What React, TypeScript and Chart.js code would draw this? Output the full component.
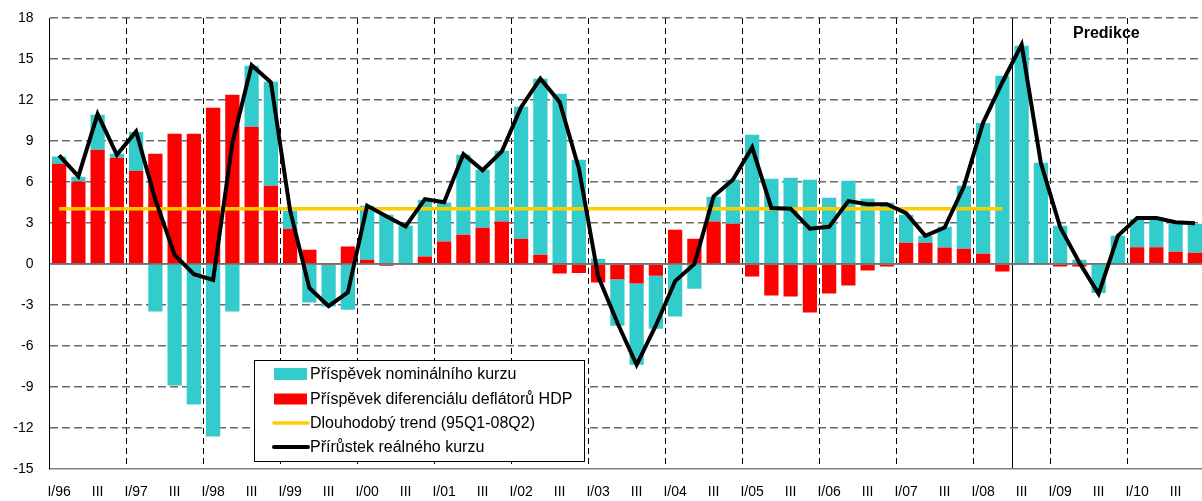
import React, { useEffect, useRef } from 'react';
import { Chart, registerables } from 'chart.js';

Chart.register(...registerables);

// Quarters 1996Q1 .. 2010Q4
const quarters: string[] = [
  '1996Q1', '1996Q2', '1996Q3', '1996Q4', '1997Q1', '1997Q2', '1997Q3', '1997Q4',
  '1998Q1', '1998Q2', '1998Q3', '1998Q4', '1999Q1', '1999Q2', '1999Q3', '1999Q4',
  '2000Q1', '2000Q2', '2000Q3', '2000Q4', '2001Q1', '2001Q2', '2001Q3', '2001Q4',
  '2002Q1', '2002Q2', '2002Q3', '2002Q4', '2003Q1', '2003Q2', '2003Q3', '2003Q4',
  '2004Q1', '2004Q2', '2004Q3', '2004Q4', '2005Q1', '2005Q2', '2005Q3', '2005Q4',
  '2006Q1', '2006Q2', '2006Q3', '2006Q4', '2007Q1', '2007Q2', '2007Q3', '2007Q4',
  '2008Q1', '2008Q2', '2008Q3', '2008Q4', '2009Q1', '2009Q2', '2009Q3', '2009Q4',
  '2010Q1', '2010Q2', '2010Q3', '2010Q4',
];

const tickLabels: string[] = [
  'I/96', '', 'III', '', 'I/97', '', 'III', '', 'I/98', '', 'III', '', 'I/99', '', 'III', '',
  'I/00', '', 'III', '', 'I/01', '', 'III', '', 'I/02', '', 'III', '', 'I/03', '', 'III', '',
  'I/04', '', 'III', '', 'I/05', '', 'III', '', 'I/06', '', 'III', '', 'I/07', '', 'III', '',
  'I/08', '', 'III', '', 'I/09', '', 'III', '', 'I/10', '', 'III', '',
];

const yTicks = { min: -15, max: 18, step: 3 };

// Příspěvek nominálního kurzu
const nominal: number[] = [
  0.54, 0.34, 2.56, 0.30, 2.83, -3.48, -8.89, -10.28, -12.63, -3.48, 4.47, 7.62,
  1.31, -2.82, -3.01, -3.35, 3.95, 3.60, 2.80, 4.15, 2.85, 5.85, 4.25, 5.18,
  9.67, 12.89, 12.46, 7.63, 0.38, -3.41, -5.95, -3.88, -3.84, -1.82, 1.81, 3.22,
  9.46, 6.24, 6.31, 6.16, 4.85, 6.09, 4.77, 4.48, 2.05, 0.51, 1.51, 4.61,
  9.56, 13.78, 15.97, 7.41, 2.80, 0.31, -2.13, 2.06, 2.05, 2.05, 2.05, 2.12,
];

// Příspěvek diferenciálu deflátorů HDP
const deflator: number[] = [
  7.33, 6.04, 8.36, 7.77, 6.82, 8.07, 9.53, 9.53, 11.43, 12.38, 10.04, 5.72,
  2.58, 1.04, -0.10, 1.28, 0.31, -0.12, 0.0, 0.55, 1.65, 2.14, 2.65, 3.11,
  1.84, 0.67, -0.69, -0.65, -1.35, -1.11, -1.43, -0.86, 2.50, 1.84, 3.11, 2.94,
  -0.91, -2.30, -2.38, -3.55, -2.16, -1.57, -0.47, -0.18, 1.55, 1.55, 1.21, 1.11,
  0.75, -0.55, 0.0, 0.0, -0.18, -0.18, 0.0, 0.0, 1.23, 1.23, 0.89, 0.82,
];

// Dlouhodobý trend (95Q1-08Q2)
const trend: (number | null)[] = [
  4.04, 4.04, 4.04, 4.04, 4.04, 4.04, 4.04, 4.04, 4.04, 4.04, 4.04, 4.04,
  4.04, 4.04, 4.04, 4.04, 4.04, 4.04, 4.04, 4.04, 4.04, 4.04, 4.04, 4.04,
  4.04, 4.04, 4.04, 4.04, 4.04, 4.04, 4.04, 4.04, 4.04, 4.04, 4.04, 4.04,
  4.04, 4.04, 4.04, 4.04, 4.04, 4.04, 4.04, 4.04, 4.04, 4.04, 4.04, 4.04,
  4.04, 4.04, null, null, null, null, null, null, null, null, null, null,
];

// Přírůstek reálného kurzu
const realRate: number[] = [
  7.95, 6.41, 10.97, 7.99, 9.70, 4.70, 0.67, -0.74, -1.16, 8.85, 14.55, 13.30,
  3.90, -1.75, -3.08, -2.08, 4.26, 3.50, 2.75, 4.75, 4.52, 8.04, 6.86, 8.24,
  11.48, 13.56, 11.85, 7.00, -0.90, -4.30, -7.38, -4.50, -1.25, 0.0, 4.95, 6.16,
  8.53, 4.10, 4.05, 2.58, 2.72, 4.60, 4.38, 4.38, 3.72, 2.06, 2.67, 5.67,
  10.35, 13.30, 16.05, 7.39, 2.70, 0.10, -2.18, 2.06, 3.36, 3.36, 3.05, 2.99,
];

const seriesNames = {
  nominal: 'Příspěvek nominálního kurzu',
  deflator: 'Příspěvek diferenciálu deflátorů HDP',
  trend: 'Dlouhodobý trend (95Q1-08Q2)',
  real: 'Přírůstek reálného kurzu',
};
const forecastLabel = 'Predikce';
const forecastStartIndex = 50; // 2008Q3

const COLORS = {
  nominal: '#33CCCC',
  deflator: '#FF0000',
  trend: '#FFCC00',
  real: '#000000',
};

const FONT = "'Liberation Sans', Arial, sans-serif";

const overlayPlugin = {
  id: 'overlay',
  afterDatasetDraw(chart: any, args: any) {
    if (args.index !== 2) return;
    const { ctx, chartArea, scales } = chart;
    const y0 = scales.y.getPixelForValue(0);
    ctx.save();
    ctx.strokeStyle = '#707070';
    ctx.lineWidth = 1.5;
    ctx.beginPath();
    ctx.moveTo(chartArea.left, y0);
    ctx.lineTo(chartArea.right, y0);
    ctx.stroke();
    ctx.restore();
  },
  afterDraw(chart: any) {
    const { ctx } = chart;
    ctx.save();
    // legend box
    const bx = 254.5, by = 360.5, bw = 330, bh = 101;
    ctx.fillStyle = '#ffffff';
    ctx.fillRect(bx, by, bw, bh);
    ctx.strokeStyle = '#000000';
    ctx.lineWidth = 1;
    ctx.strokeRect(bx, by, bw, bh);
    const rows = [374, 399, 423, 447];
    const sx = 274, sw = 33, tx = 310;
    ctx.fillStyle = COLORS.nominal;
    ctx.fillRect(sx, rows[0] - 6, sw, 12);
    ctx.fillStyle = COLORS.deflator;
    ctx.fillRect(sx, rows[1] - 5.5, sw, 11);
    ctx.lineCap = 'round';
    ctx.strokeStyle = COLORS.trend;
    ctx.lineWidth = 3.5;
    ctx.beginPath();
    ctx.moveTo(sx, rows[2]);
    ctx.lineTo(sx + sw + 1, rows[2]);
    ctx.stroke();
    ctx.strokeStyle = COLORS.real;
    ctx.lineWidth = 4;
    ctx.beginPath();
    ctx.moveTo(sx, rows[3]);
    ctx.lineTo(sx + sw + 1, rows[3]);
    ctx.stroke();
    ctx.fillStyle = '#000000';
    ctx.font = `16px ${FONT}`;
    ctx.textBaseline = 'middle';
    ctx.textAlign = 'left';
    const names = [seriesNames.nominal, seriesNames.deflator, seriesNames.trend, seriesNames.real];
    names.forEach((n, i) => ctx.fillText(n, tx, rows[i] + 1));
    // forecast label
    ctx.font = `bold 16px ${FONT}`;
    ctx.fillText(forecastLabel, 1073, 34);
    ctx.restore();
  },
};

export default function App() {
  const ref = useRef<HTMLCanvasElement>(null);
  useEffect(() => {
    document.body.style.margin = '0';
    const tickFont = { family: FONT, size: 14 };
    const chart = new Chart(ref.current as HTMLCanvasElement, {
      type: 'bar',
      data: {
        labels: quarters,
        datasets: [
          {
            type: 'line',
            label: seriesNames.real,
            data: realRate,
            borderColor: COLORS.real,
            backgroundColor: COLORS.real,
            borderWidth: 4,
            pointRadius: 0,
            tension: 0,
            stack: 'real',
          } as any,
          {
            type: 'line',
            label: seriesNames.trend,
            data: trend,
            borderColor: COLORS.trend,
            backgroundColor: COLORS.trend,
            borderWidth: 3.5,
            pointRadius: 0,
            tension: 0,
            stack: 'trend',
          } as any,
          {
            type: 'bar',
            label: seriesNames.deflator,
            data: deflator,
            backgroundColor: COLORS.deflator,
            stack: 'bars',
            barPercentage: 0.74,
            categoryPercentage: 1,
          },
          {
            type: 'bar',
            label: seriesNames.nominal,
            data: nominal,
            backgroundColor: COLORS.nominal,
            stack: 'bars',
            barPercentage: 0.74,
            categoryPercentage: 1,
          },
        ],
      },
      options: {
        animation: false,
        responsive: false,
        layout: { padding: { top: 18, right: 0.5, left: 0, bottom: 0 } },
        plugins: { legend: { display: false }, tooltip: { enabled: false } },
        scales: {
          x: {
            stacked: true,
            grid: {
              offset: true,
              drawTicks: false,
              lineWidth: 1,
              color: (c: any) => {
                const i = c.index;
                if (i === forecastStartIndex) return '#000000';
                if (i > 0 && i < quarters.length && i % 4 === 0) return '#000000';
                return 'rgba(0,0,0,0)';
              },
            },
            border: {
              display: true,
              color: '#808080',
              width: 1.5,
              dash: (c: any) => (c.index === forecastStartIndex ? [] : [6, 4]),
            },
            ticks: {
              autoSkip: false,
              maxRotation: 0,
              minRotation: 0,
              padding: 15,
              color: '#000000',
              font: tickFont,
              callback: (_v: any, i: number) => tickLabels[i],
            },
            afterFit: (s: any) => {
              s.height = 32;
              s.paddingLeft = 0;
              s.paddingRight = 0;
            },
          },
          y: {
            stacked: true,
            min: yTicks.min,
            max: yTicks.max,
            ticks: { stepSize: yTicks.step, padding: 16, color: '#000000', font: tickFont },
            grid: {
              drawTicks: false,
              lineWidth: 1.5,
              color: (c: any) =>
                c.tick && c.tick.value === yTicks.min ? 'rgba(0,0,0,0)' : '#6a6a6a',
            },
            border: {
              display: true,
              color: '#000000',
              width: 1,
              dash: (c: any) => (c.tick && c.tick.value === 0 ? [] : [8, 4]),
            },
            afterFit: (s: any) => {
              s.width = 49.5;
              s.paddingTop = 0;
              s.paddingBottom = 0;
            },
          },
        },
      },
      plugins: [overlayPlugin],
    } as any);
    return () => chart.destroy();
  }, []);
  return (
    <div style={{ width: 1202, height: 501, overflow: 'hidden', background: '#fff' }}>
      <canvas ref={ref} width={1205} height={501} style={{ display: 'block' }} />
    </div>
  );
}
